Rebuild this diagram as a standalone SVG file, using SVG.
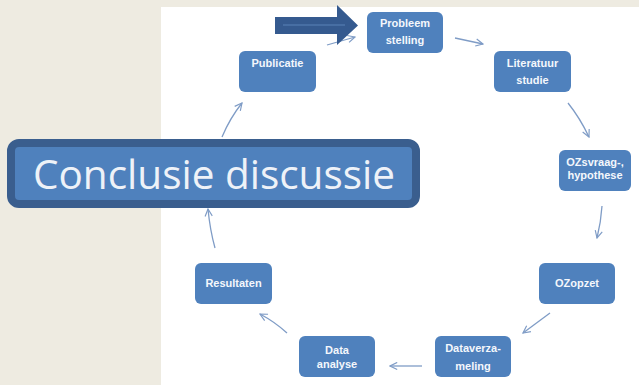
<svg xmlns="http://www.w3.org/2000/svg" width="639" height="385" viewBox="0 0 639 385">
<style>
.node rect{fill:#4f81bd;}
.node text{fill:#f4f7fc;font-family:"Liberation Sans",Arial,sans-serif;font-weight:bold;font-size:11px;text-anchor:middle;}
.conn path{fill:none;stroke:#7f9cc6;stroke-width:1.3;marker-end:url(#ah);}
</style>
<defs>
<marker id="ah" viewBox="0 0 10 10" refX="9" refY="5" markerWidth="9" markerHeight="9" markerUnits="userSpaceOnUse" orient="auto">
<path d="M1,1 L9,5 L1,9" fill="none" stroke="#7f9cc6" stroke-width="1.3"/>
</marker>
</defs>
<rect x="0" y="0" width="639" height="385" fill="#eeebe1"/>
<rect x="161" y="7" width="478" height="378" fill="#ffffff"/>
<g id="connectors" class="conn">
<path d="M455,38 L483,44"/>
<path d="M568,103 Q580,118 589,137"/>
<path d="M602,206 Q601,222 597,238"/>
<path d="M550,313 L523,333"/>
<path d="M422,366 L390,366"/>
<path d="M287,333 Q275,322 260,314"/>
<path d="M215,248 Q210,230 208,209"/>
<path d="M222,137 Q230,118 242,103"/>
<path d="M327,45 L355,37"/>
</g>
<g id="n-probleem" class="node"><rect x="367" y="12" width="76" height="41" rx="6"/><text x="405" y="27">Probleem</text><text x="405" y="44">stelling</text></g>
<g id="n-literatuur" class="node"><rect x="494" y="51" width="77" height="41" rx="6"/><text x="532.5" y="67">Literatuur</text><text x="532.5" y="84">studie</text></g>
<g id="n-ozsvraag" class="node"><rect x="559" y="150" width="72" height="41" rx="6"/><text x="595" y="166">OZsvraag-,</text><text x="595" y="179">hypothese</text></g>
<g id="n-ozopzet" class="node"><rect x="539" y="263" width="76" height="41" rx="6"/><text x="577" y="287">OZopzet</text></g>
<g id="n-dataverza" class="node"><rect x="435" y="336" width="76" height="41" rx="6"/><text x="473" y="352">Dataverza-</text><text x="473" y="370">meling</text></g>
<g id="n-analyse" class="node"><rect x="299" y="336" width="76" height="41" rx="6"/><text x="337" y="354">Data</text><text x="337" y="368">analyse</text></g>
<g id="n-resultaten" class="node"><rect x="195" y="263" width="77" height="41" rx="6"/><text x="233.5" y="287">Resultaten</text></g>
<g id="n-publicatie" class="node"><rect x="239" y="51" width="77" height="41" rx="6"/><text x="277.5" y="67">Publicatie</text></g>
<g id="big-arrow">
<path d="M275,17 L337,17 L337,5 L358,25.5 L337,45 L337,34 L275,34 Z" fill="#355a8f"/>
<line x1="283" y1="25" x2="345" y2="25" stroke="#5a82b8" stroke-width="1.2"/>
</g>
<g id="n-conclusie">
<rect x="11" y="143" width="405" height="61" rx="8" fill="#4f81bd" stroke="#3a5e8e" stroke-width="8"/>
<text x="33" y="189" textLength="362" lengthAdjust="spacingAndGlyphs" font-family="'Open Sans','Liberation Sans',Arial,sans-serif" font-size="40" fill="#eef2f8">Conclusie discussie</text>
</g>
</svg>
